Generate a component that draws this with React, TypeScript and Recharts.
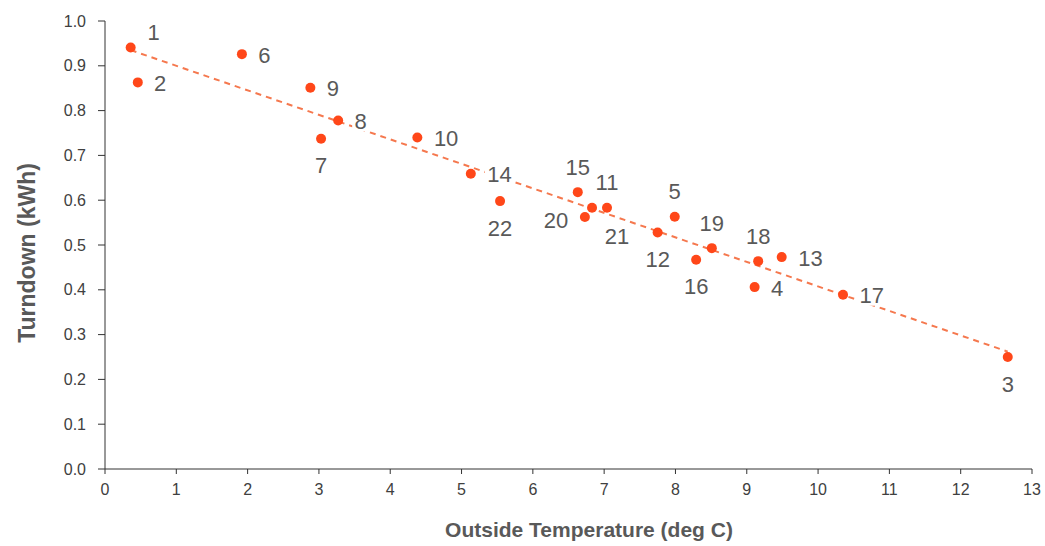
import React from "react";
import { ScatterChart, Scatter, XAxis, YAxis } from "recharts";

// Point ids, outside temperature (deg C) and turndown (kWh)
const ids = [1, 2, 3, 4, 5, 6, 7, 8, 9, 10, 11, 12, 13, 14, 15, 16, 17, 18, 19, 20, 21, 22];
const temps = [0.36, 0.46, 12.66, 9.11, 7.99, 1.92, 3.03, 3.27, 2.88, 4.38, 7.04, 7.75, 9.49, 5.13, 6.63, 8.29, 10.35, 9.16, 8.51, 6.73, 6.83, 5.54];
const turndown = [0.941, 0.863, 0.25, 0.406, 0.563, 0.926, 0.737, 0.778, 0.851, 0.74, 0.583, 0.528, 0.473, 0.659, 0.618, 0.467, 0.389, 0.464, 0.493, 0.5625, 0.583, 0.598];

// Trendline endpoints
const trendX = [0.36, 12.66];
const trendY = [0.935, 0.262];

const xTicks = [0, 1, 2, 3, 4, 5, 6, 7, 8, 9, 10, 11, 12, 13];
const yTicks = [0, 0.1, 0.2, 0.3, 0.4, 0.5, 0.6, 0.7, 0.8, 0.9, 1.0];

// Label placement keyword per point id
const labelPlacement: Record<number, string> = {
  1: "aboveRight", 2: "right", 3: "below", 4: "right", 5: "above", 6: "right",
  7: "below", 8: "right", 9: "right", 10: "right", 11: "above", 12: "below",
  13: "right", 14: "right", 15: "above", 16: "below", 17: "right", 18: "above",
  19: "above", 20: "left", 21: "belowRight", 22: "below",
};

const points = ids.map((id, i) => ({ id, x: temps[i], y: turndown[i] }));
const trend = trendX.map((x, i) => ({ x, y: trendY[i] }));

const POINT_COLOR = "#FF4719";
const LINE_COLOR = "#F5784E";
const LABEL_COLOR = "#595959";
const LABEL_FONT = 22;
const FONT = "'Liberation Sans', Arial, sans-serif";

const PointShape = (props: any) => {
  const { cx, cy, payload } = props;
  const text = String(payload.id);
  const w = text.length * 12.8;
  const place = labelPlacement[payload.id];
  let dx = 0;
  let dy = 0;
  if (place === "right") { dx = 16 + w / 2; dy = 1; }
  else if (place === "left") { dx = -(16 + w / 2); dy = 3; }
  else if (place === "above") { dx = 0; dy = -25; }
  else if (place === "below") { dx = 0; dy = 27; }
  else if (place === "aboveRight") { dx = 23; dy = -15; }
  else if (place === "belowRight") { dx = 25; dy = 29; }
  const lx = cx + dx;
  const ly = cy + dy;
  return (
    <g>
      <circle cx={cx} cy={cy} r={5} fill={POINT_COLOR} />
      <rect x={lx - w / 2 - 2} y={ly - 10} width={w + 4} height={20} fill="#ffffff" />
      <text
        x={lx}
        y={ly}
        textAnchor="middle"
        dominantBaseline="central"
        fontFamily={FONT}
        fontSize={LABEL_FONT}
        fill={LABEL_COLOR}
      >
        {text}
      </text>
    </g>
  );
};

const EmptyShape = () => <g />;

const YTitle = () => (
  <text
    x={27}
    y={253}
    transform="rotate(-90 27 253)"
    textAnchor="middle"
    dominantBaseline="central"
    fontFamily={FONT}
    fontWeight="bold"
    fontSize={23}
    fill={LABEL_COLOR}
  >
    Turndown (kWh)
  </text>
);

const XTitle = () => (
  <text
    x={589}
    y={529}
    textAnchor="middle"
    dominantBaseline="central"
    fontFamily={FONT}
    fontWeight="bold"
    fontSize={21}
    fill={LABEL_COLOR}
  >
    Outside Temperature (deg C)
  </text>
);

const tickStyle = {
  fontFamily: FONT,
  fontSize: 16,
  fill: "#404040",
};

export default function App() {
  return (
    <div style={{ position: "absolute", left: 0, top: 0, background: "#ffffff" }}>
      <ScatterChart
        width={1045}
        height={546}
        margin={{ top: 21, right: 13, left: 0, bottom: 0 }}
      >
        <XAxis
          type="number"
          dataKey="x"
          domain={[0, 13]}
          ticks={xTicks}
          interval={0}
          height={77}
          tickSize={5}
          tickMargin={10}
          tick={tickStyle}
          stroke="#333333"
          allowDataOverflow
          label={<XTitle />}
        />
        <YAxis
          type="number"
          dataKey="y"
          domain={[0, 1]}
          ticks={yTicks}
          interval={0}
          width={105}
          tickSize={7}
          tickMargin={12}
          tick={tickStyle}
          tickFormatter={(v: number) => v.toFixed(1)}
          stroke="#333333"
          allowDataOverflow
          label={<YTitle />}
        />
        <Scatter
          data={trend}
          line={{ stroke: LINE_COLOR, strokeWidth: 2, strokeDasharray: "6 5" }}
          shape={<EmptyShape />}
          isAnimationActive={false}
        />
        <Scatter data={points} shape={<PointShape />} isAnimationActive={false} />
      </ScatterChart>
    </div>
  );
}
